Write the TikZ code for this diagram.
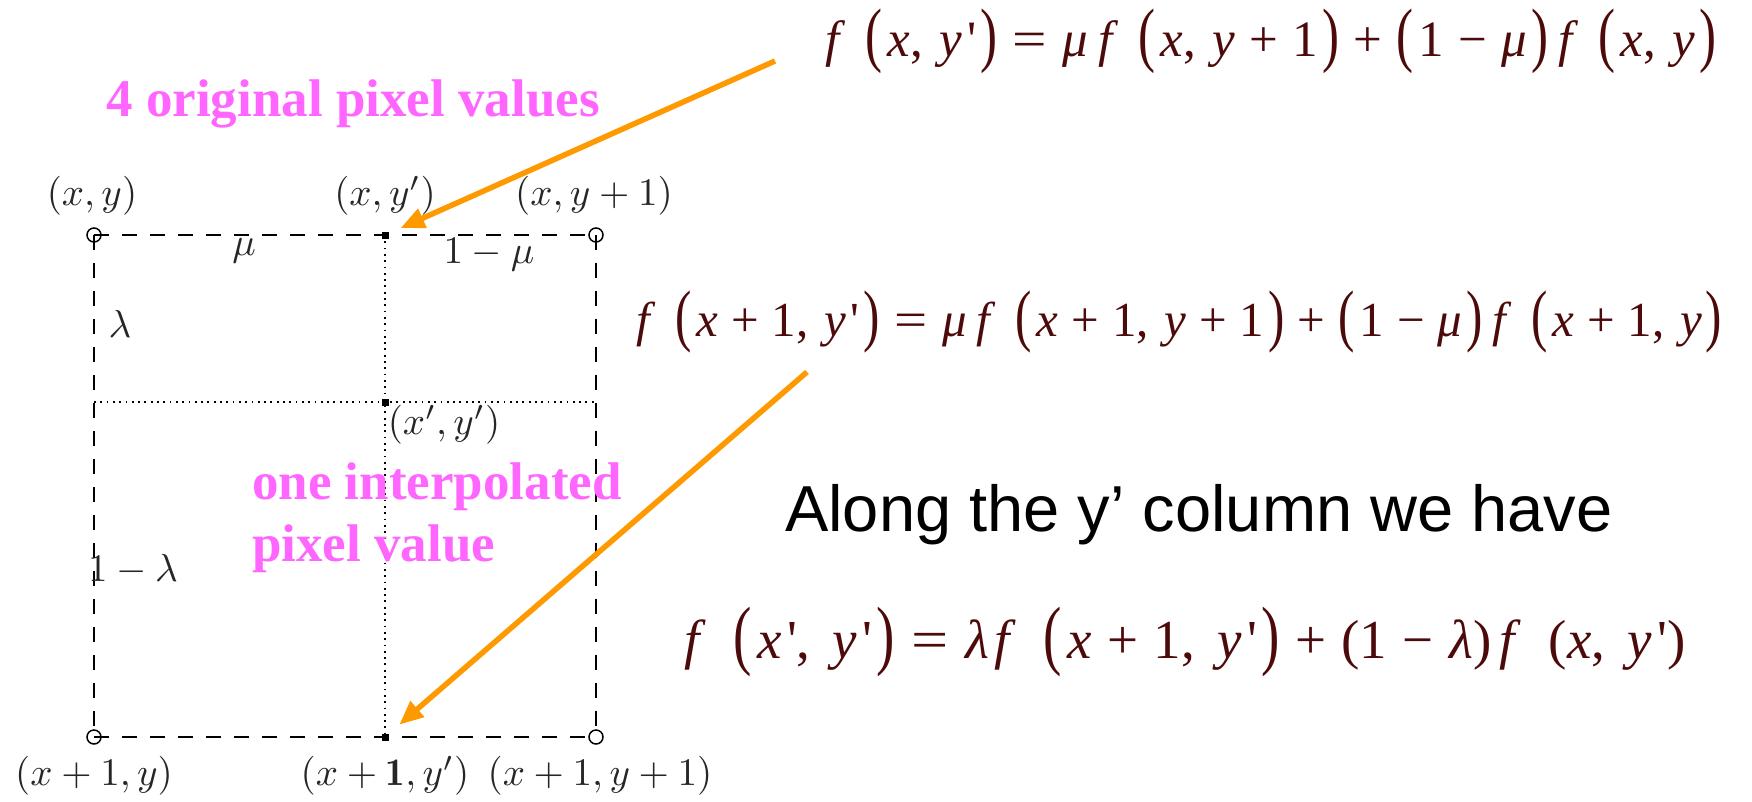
\documentclass[tikz,border=0pt]{standalone}
\usepackage{fontspec}
\usepackage{graphicx}
\usetikzlibrary{arrows.meta}
\newfontfamily\timesf{Liberation Serif}
\newfontfamily\arialf{Liberation Sans}
\definecolor{eqbrown}{HTML}{4D0A0A}
\definecolor{pinktxt}{HTML}{FF66FF}
\definecolor{arroworange}{HTML}{FF9900}
\newcommand\gF{0.5em}
\newcommand\gC{0.4em}
\newcommand\gB{0.28em}
\newcommand\bigL{\raisebox{-0.05em}{\scalebox{1}[1.4]{(}}\hspace{0.1em}}
\newcommand\bigR{\hspace{0.08em}\raisebox{-0.05em}{\scalebox{1}[1.4]{)}}}
\newcommand\vv[1]{\textit{#1}}
\newcommand\pr{\hspace{0.1em}\textquotesingle}
\newcommand\fsp{\textit{f}\hspace{\gF}}
\newcommand\bo[1]{\hspace{\gB}#1\hspace{\gB}}
\newcommand\eqs{\hspace{0.3em}\scalebox{1.2}[1]{=}\hspace{0.3em}}
\newcommand\cm{,\hspace{\gC}}
\newcommand\mlbl[1]{\scalebox{3.9}{$#1$}}
\begin{document}
\begin{tikzpicture}[x=1pt,y=-1pt,
  gridline/.style={line width=1.8pt, dash pattern=on 15pt off 13pt},
  dotline/.style={line width=1.8pt, dash pattern=on 1.8pt off 4.5pt},
  orig/.style={circle, draw, line width=1.5pt, minimum size=14pt, inner sep=0pt},
  interp/.style={rectangle, fill=black, minimum size=7pt, inner sep=0pt},
  lbl/.style={text=black!85, inner sep=0pt},
  pinklbl/.style={font=\timesf\bfseries\fontsize{53}{62}\selectfont, text=pinktxt, align=left, inner sep=0pt},
  eq/.style={font=\timesf, text=eqbrown, inner sep=0pt, anchor=base west},
  orarrow/.style={draw=arroworange, line width=5.5pt, -{Triangle[length=24pt,width=20pt]}}]
\useasboundingbox (0,0) rectangle (1752,801);
% grid points
\node[orig] (c00) at (94,235) {};
\node[orig] (c01) at (596,235) {};
\node[orig] (c10) at (94,737) {};
\node[orig] (c11) at (596,737) {};
\node[interp] (d0) at (385,235) {};
\node[interp] (dm) at (385,402) {};
\node[interp] (d1) at (385,737) {};
\coordinate (hl) at (94,402);
\coordinate (hr) at (596,402);
% lines
\draw[gridline] (c00.center) -- (c01.center);
\draw[gridline] (c10.center) -- (c11.center);
\draw[gridline] (c00.center) -- (c10.center);
\draw[gridline] (c01.center) -- (c11.center);
\draw[dotline] (d0.center) -- (d1.center);
\draw[dotline] (hl) -- (hr);
% labels
\node[lbl] (l00) at (92,196) {\mlbl{(x,y)}};
\node[lbl] (l0m) at (385,196) {\mlbl{(x,y')}};
\node[lbl] (l01) at (594,196) {\mlbl{(x,y+1)}};
\node[lbl] (lmu) at (244,251) {\mlbl{\mu}};
\node[lbl] (lmu1) at (489,255) {\mlbl{1-\mu}};
\node[lbl] (llam) at (120,324) {\mlbl{\lambda}};
\node[lbl] (lmid) at (444,425) {\mlbl{(x',y')}};
\node[lbl] (llam1) at (133,570) {\mlbl{1-\lambda}};
\node[lbl] (l10) at (94,776) {\mlbl{(x+1,y)}};
\node[lbl] (l1m) at (385,776) {\mlbl{(x+\mathbf{1},y')}};
\node[lbl] (l11) at (600,776) {\mlbl{(x+1,y+1)}};
% pink texts
\node[pinklbl] (orig4) at (353,104) {4 original pixel values};
\node[pinklbl, anchor=west] (oneint) at (252,518) {one interpolated\\pixel value};
% equations
\node[eq, font=\timesf\fontsize{51}{56}\selectfont] (eq1) at (825,56) {\renewcommand\gF{0.4em}\renewcommand\gC{0.32em}\fsp\bigL\vv{x}\cm\vv{y}\pr\bigR\eqs\vv{μ}\hspace{0.2em}\fsp\bigL\vv{x}\cm\vv{y}\bo{+}1\bigR\bo{+}\bigL1\bo{−}\vv{μ}\bigR\hspace{0.2em}\fsp\bigL\vv{x}\cm\vv{y}\bigR};
\node[eq, font=\timesf\fontsize{49}{54}\selectfont] (eq2) at (636,336) {\renewcommand\gF{0.4em}\renewcommand\gC{0.32em}\renewcommand\gB{0.265em}\fsp\bigL\vv{x}\bo{+}1\cm\vv{y}\pr\bigR\eqs\vv{μ}\hspace{0.2em}\fsp\bigL\vv{x}\bo{+}1\cm\vv{y}\bo{+}1\bigR\bo{+}\bigL1\bo{−}\vv{μ}\bigR\hspace{0.2em}\fsp\bigL\vv{x}\bo{+}1\cm\vv{y}\bigR};
\node[font=\arialf\fontsize{65}{70}\selectfont, inner sep=0pt, anchor=base west] (along) at (785,531) {Along the y’ column we have};
\node[eq, font=\timesf\fontsize{55}{60}\selectfont] (eq3) at (684,658) {\fsp\bigL\vv{x}\pr\cm\vv{y}\pr\bigR\eqs\vv{λ}\hspace{0.1em}\fsp\bigL\vv{x}\bo{+}1\cm\vv{y}\pr\bigR\bo{+}(1\bo{−}\vv{λ})\hspace{0.15em}\fsp(\vv{x}\cm\vv{y}\pr)};
% arrows
\coordinate (a1s) at (775,61);
\coordinate (a2s) at (807,372);
\draw[orarrow, shorten >=13pt] (a1s) -- (d0);
\draw[orarrow, shorten >=14pt] (a2s) -- (d1);
\end{tikzpicture}
\end{document}
